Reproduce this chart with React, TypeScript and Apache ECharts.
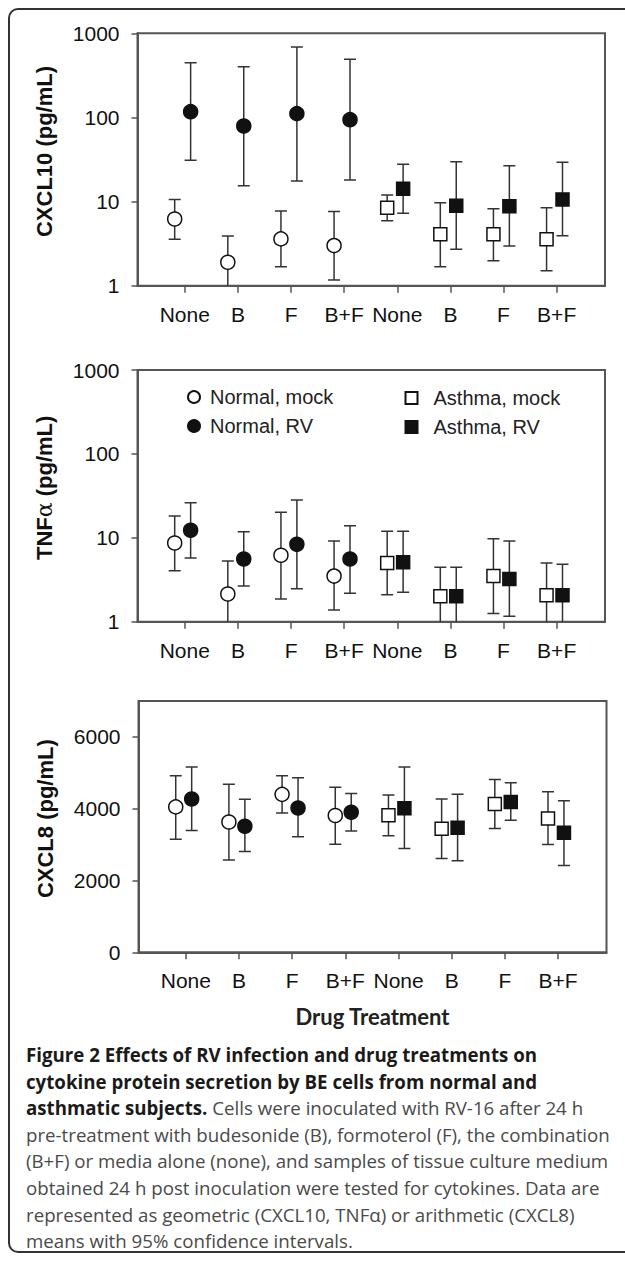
import React, { useEffect, useRef } from "react";
import * as echarts from "echarts";

// ---------- data ----------
const categories = ["None", "B", "F", "B+F", "None", "B", "F", "B+F"];
const groupNames = ["Normal, mock", "Normal, RV", "Asthma, mock", "Asthma, RV"];

// CXCL10 (pg/mL) geometric means, 95% CI
const cxcl10NormalMock = [6.2, 1.9, 3.6, 3.0];
const cxcl10NormalMockLow = [3.56, 0.9, 1.68, 1.17];
const cxcl10NormalMockHigh = [10.6, 3.9, 7.7, 7.6];
const cxcl10NormalRV = [117, 79, 111, 94];
const cxcl10NormalRVLow = [31, 15.4, 17.6, 18];
const cxcl10NormalRVHigh = [448, 401, 687, 491];
const cxcl10AsthmaMock = [8.45, 4.1, 4.1, 3.56];
const cxcl10AsthmaMockLow = [5.9, 1.68, 1.98, 1.51];
const cxcl10AsthmaMockHigh = [12, 9.7, 8.2, 8.45];
const cxcl10AsthmaRV = [14.2, 8.9, 8.8, 10.6];
const cxcl10AsthmaRVLow = [7.25, 2.71, 2.96, 3.93];
const cxcl10AsthmaRVHigh = [27.7, 29.8, 26.7, 29.3];

// TNFα (pg/mL) geometric means, 95% CI
const tnfNormalMock = [8.67, 2.14, 6.19, 3.5];
const tnfNormalMockLow = [4.05, 0.9, 1.86, 1.38];
const tnfNormalMockHigh = [18.2, 5.29, 20.1, 9.16];
const tnfNormalRV = [12.3, 5.59, 8.36, 5.59];
const tnfNormalRVLow = [5.74, 2.66, 2.47, 2.18];
const tnfNormalRVHigh = [26.2, 11.8, 28.2, 13.9];
const tnfAsthmaMock = [5.0, 2.01, 3.5, 2.06];
const tnfAsthmaMockLow = [2.1, 0.9, 1.25, 0.9];
const tnfAsthmaMockHigh = [12.0, 4.45, 9.75, 5.0];
const tnfAsthmaRV = [5.1, 2.01, 3.23, 2.06];
const tnfAsthmaRVLow = [2.24, 0.9, 1.16, 0.9];
const tnfAsthmaRVHigh = [12.0, 4.45, 9.16, 4.83];

// CXCL8 (pg/mL) arithmetic means, 95% CI
const cxcl8NormalMock = [4050, 3630, 4400, 3810];
const cxcl8NormalMockLow = [3150, 2570, 3880, 3010];
const cxcl8NormalMockHigh = [4920, 4680, 4920, 4600];
const cxcl8NormalRV = [4270, 3510, 4020, 3900];
const cxcl8NormalRVLow = [3390, 2810, 3220, 3380];
const cxcl8NormalRVHigh = [5160, 4260, 4860, 4420];
const cxcl8AsthmaMock = [3820, 3440, 4130, 3730];
const cxcl8AsthmaMockLow = [3250, 2610, 3450, 3000];
const cxcl8AsthmaMockHigh = [4380, 4270, 4810, 4470];
const cxcl8AsthmaRV = [4010, 3470, 4190, 3330];
const cxcl8AsthmaRVLow = [2890, 2550, 3680, 2420];
const cxcl8AsthmaRVHigh = [5160, 4400, 4720, 4220];

const logTicks = [1, 10, 100, 1000];
const linTicks = [0, 2000, 4000, 6000];

const captionLines = [
  { bold: "Figure 2 Effects of RV infection and drug treatments on", normal: "" },
  { bold: "cytokine protein secretion by BE cells from normal and", normal: "" },
  { bold: "asthmatic subjects.", normal: " Cells were inoculated with RV-16 after 24 h" },
  { bold: "", normal: "pre-treatment with budesonide (B), formoterol (F), the combination" },
  { bold: "", normal: "(B+F) or media alone (none), and samples of tissue culture medium" },
  { bold: "", normal: "obtained 24 h post inoculation were tested for cytokines. Data are" },
  { bold: "", normal: "represented as geometric (CXCL10, TNF\u03b1) or arithmetic (CXCL8)" },
  { bold: "", normal: "means with 95% confidence intervals." },
];

// ---------- styling / layout ----------
const FONT = "'Liberation Sans', Arial, sans-serif";
const AX = "#555";
const INK = "#111";
const MOCK_SHIFT = -0.19;
const RV_SHIFT = 0.11;

const panels = [
  {
    title: "CXCL10 (pg/mL)",
    log: true,
    groups: [
      [cxcl10NormalMock, cxcl10NormalMockLow, cxcl10NormalMockHigh],
      [cxcl10NormalRV, cxcl10NormalRVLow, cxcl10NormalRVHigh],
      [cxcl10AsthmaMock, cxcl10AsthmaMockLow, cxcl10AsthmaMockHigh],
      [cxcl10AsthmaRV, cxcl10AsthmaRVLow, cxcl10AsthmaRVHigh],
    ],
  },
  {
    title: "{b|TNF}{a|\u03b1}{b| (pg/mL)}",
    log: true,
    groups: [
      [tnfNormalMock, tnfNormalMockLow, tnfNormalMockHigh],
      [tnfNormalRV, tnfNormalRVLow, tnfNormalRVHigh],
      [tnfAsthmaMock, tnfAsthmaMockLow, tnfAsthmaMockHigh],
      [tnfAsthmaRV, tnfAsthmaRVLow, tnfAsthmaRVHigh],
    ],
  },
  {
    title: "CXCL8 (pg/mL)",
    log: false,
    groups: [
      [cxcl8NormalMock, cxcl8NormalMockLow, cxcl8NormalMockHigh],
      [cxcl8NormalRV, cxcl8NormalRVLow, cxcl8NormalRVHigh],
      [cxcl8AsthmaMock, cxcl8AsthmaMockLow, cxcl8AsthmaMockHigh],
      [cxcl8AsthmaRV, cxcl8AsthmaRVLow, cxcl8AsthmaRVHigh],
    ],
  },
];

const grids = [
  { left: 137.5, top: 33.3, width: 467.5, height: 252.4 },
  { left: 137.5, top: 370, width: 467.5, height: 251.7 },
  { left: 138.5, top: 701, width: 468, height: 251.3 },
];

const errorRender = (params: any, api: any) => {
  const x = api.value(0);
  const lo = api.coord([x, api.value(1)]);
  const hi = api.coord([x, api.value(2)]);
  const w = 6;
  const style = { stroke: "#333", lineWidth: 1.5, fill: "none" };
  return {
    type: "group",
    children: [
      { type: "line", shape: { x1: lo[0], y1: lo[1], x2: hi[0], y2: hi[1] }, style },
      { type: "line", shape: { x1: hi[0] - w, y1: hi[1], x2: hi[0] + w, y2: hi[1] }, style },
      { type: "line", shape: { x1: lo[0] - w, y1: lo[1], x2: lo[0] + w, y2: lo[1] }, style },
    ],
  };
};

function buildOption() {
  const catPositions = categories.map((_, i) => i + 1);
  const xAxis: any[] = [];
  const yAxis: any[] = [];
  const series: any[] = [];
  panels.forEach((p, pi) => {
    xAxis.push({
      type: "value",
      gridIndex: pi,
      min: 0.11,
      max: 8.91,
      name: pi === 2 ? "Drug Treatment" : "",
      nameLocation: "middle",
      nameGap: 53,
      nameTextStyle: { fontSize: 22, fontWeight: "bold", color: "#222", fontFamily: "Lato, 'Open Sans', sans-serif" },
      axisLine: { show: true, onZero: false, lineStyle: { color: AX, width: 2 } },
      axisTick: { show: true, customValues: catPositions, length: 7, lineStyle: { color: AX, width: 1.5 } },
      axisLabel: {
        customValues: catPositions,
        formatter: (v: number) => categories[Math.round(v) - 1] ?? "",
        fontSize: 21,
        color: INK,
        margin: 18,
        fontFamily: FONT,
      },
      splitLine: { show: false },
    });
    const ticks = p.log ? logTicks : linTicks;
    yAxis.push({
      type: p.log ? "log" : "value",
      logBase: 10,
      gridIndex: pi,
      min: p.log ? 1 : 0,
      max: p.log ? 1000 : 7000,
      name: p.title,
      nameLocation: "middle",
      nameGap: 82,
      nameRotate: 90,
      nameTextStyle: {
        fontSize: 22,
        fontWeight: "bold",
        color: INK,
        fontFamily: FONT,
        padding: [0, 0, 0, 16],
        rich: {
          b: { fontSize: 22, fontWeight: "bold", color: INK, fontFamily: FONT },
          a: { fontSize: 22, fontWeight: "normal", color: INK, fontFamily: "'DejaVu Serif', serif" },
        },
      },
      axisLine: { show: true, onZero: false, lineStyle: { color: AX, width: 2 } },
      axisTick: { show: true, customValues: ticks, length: 6, lineStyle: { color: AX, width: 1.5 } },
      axisLabel: {
        customValues: ticks,
        fontSize: 21,
        color: INK,
        margin: 18,
        fontFamily: FONT,
        formatter: (v: number) => String(Math.round(v)),
      },
      minorTick: { show: false },
      splitLine: { show: false },
    });
    p.groups.forEach((g, gi) => {
      const base = gi < 2 ? 1 : 5;
      const shift = gi % 2 === 0 ? MOCK_SHIFT : RV_SHIFT;
      const [mean, low, high] = g;
      const mock = gi % 2 === 0;
      series.push({
        type: "custom",
        name: groupNames[gi] + " CI",
        xAxisIndex: pi,
        yAxisIndex: pi,
        renderItem: errorRender,
        clip: true,
        z: 2,
        encode: { x: 0, y: [1, 2] },
        data: mean.map((_, i) => [base + i + shift, low[i], high[i]]),
      });
      series.push({
        type: "scatter",
        name: groupNames[gi],
        xAxisIndex: pi,
        yAxisIndex: pi,
        symbol: gi < 2 ? "circle" : "rect",
        symbolSize: gi < 2 ? 14 : 13,
        z: 3,
        itemStyle: {
          color: mock ? "#fff" : INK,
          borderColor: INK,
          borderWidth: 1.5,
          opacity: 1,
        },
        data: mean.map((v, i) => [base + i + shift, v]),
      });
    });
  });

  const legendCommon = {
    orient: "vertical",
    itemWidth: 12,
    itemHeight: 12,
    itemGap: 9,
    padding: 0,
    selectedMode: false,
    textStyle: { fontSize: 20, color: "#222", fontFamily: FONT },
  };

  return {
    animation: false,
    textStyle: { fontFamily: FONT },
    grid: grids.map((g) => ({ ...g, show: true, borderColor: AX, borderWidth: 2, containLabel: false })),
    xAxis,
    yAxis,
    legend: [
      { ...legendCommon, data: [groupNames[0], groupNames[1]], left: 187, top: 387, textStyle: { ...legendCommon.textStyle, padding: [0, 0, 0, 5] } },
      { ...legendCommon, data: [groupNames[2], groupNames[3]], left: 404.5, top: 388, textStyle: { ...legendCommon.textStyle, padding: [0, 0, 0, 11] } },
    ],
    series,
  };
}

export default function App() {
  const ref = useRef<HTMLDivElement>(null);
  useEffect(() => {
    if (!ref.current) return;
    const chart = echarts.init(ref.current, null, { renderer: "svg" });
    chart.setOption(buildOption() as any);
    return () => chart.dispose();
  }, []);
  return (
    <div style={{ position: "fixed", left: 0, top: 0, width: 625, height: 1261, overflow: "hidden", background: "#fff" }}>
      <div
        style={{
          position: "absolute",
          left: 8,
          top: 8,
          width: 660,
          height: 1245,
          border: "2px solid #333",
          borderRadius: 10,
          boxSizing: "border-box",
        }}
      />
      <div ref={ref} style={{ position: "absolute", left: 0, top: 0, width: 625, height: 1035 }} />
      <div
        style={{
          position: "absolute",
          left: 26,
          top: 1042,
          fontFamily: "'Open Sans', sans-serif",
          fontSize: 18.7,
          lineHeight: "26.6px",
          whiteSpace: "nowrap",
        }}
      >
        {captionLines.map((l, i) => (
          <div key={i}>
            {l.bold && <span style={{ fontWeight: 700, color: "#1a1a1a" }}>{l.bold}</span>}
            {l.normal && <span style={{ color: "#4a4a4a" }}>{l.normal}</span>}
          </div>
        ))}
      </div>
    </div>
  );
}
